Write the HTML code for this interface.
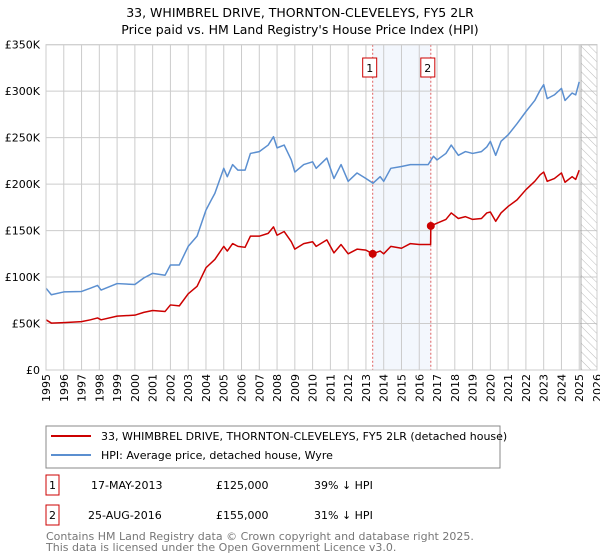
<!DOCTYPE html>
<html><head><meta charset="utf-8"><style>
body{margin:0;background:#fff;font-family:"DejaVu Sans","Liberation Sans",sans-serif;}
svg{display:block}
</style></head><body>
<svg width="600" height="560" font-family="DejaVu Sans, Liberation Sans, sans-serif">
<text x="300" y="17" text-anchor="middle" font-size="12.5">33, WHIMBREL DRIVE, THORNTON-CLEVELEYS, FY5 2LR</text>
<text x="300" y="34" text-anchor="middle" font-size="12.5">Price paid vs. HM Land Registry's House Price Index (HPI)</text>
<defs><pattern id="hatch" width="6" height="6" patternUnits="userSpaceOnUse" patternTransform="rotate(-45)"><line x1="0" y1="0" x2="0" y2="6" stroke="#bbb" stroke-width="1"/></pattern></defs>
<g id="plot"></g>
<g>
<rect x="46" y="426" width="454" height="42" fill="#fff" stroke="#888"/>
<line x1="51" y1="436" x2="91" y2="436" stroke="#cc0000" stroke-width="2"/>
<text x="101" y="440" font-size="11">33, WHIMBREL DRIVE, THORNTON-CLEVELEYS, FY5 2LR (detached house)</text>
<line x1="51" y1="455" x2="91" y2="455" stroke="#5b8fd0" stroke-width="2"/>
<text x="101" y="459" font-size="11">HPI: Average price, detached house, Wyre</text>
</g>
<g font-size="11">
<rect x="46" y="475" width="13" height="20" fill="#fff" stroke="#cc0000"/><text x="52.5" y="489" text-anchor="middle">1</text>
<text x="91" y="489">17-MAY-2013</text><text x="216" y="489">£125,000</text><text x="314" y="489">39% ↓ HPI</text>
<rect x="46" y="505" width="13" height="20" fill="#fff" stroke="#cc0000"/><text x="52.5" y="519" text-anchor="middle">2</text>
<text x="88" y="519">25-AUG-2016</text><text x="216" y="519">£155,000</text><text x="314" y="519">31% ↓ HPI</text>
</g>
<text x="46" y="540" font-size="11" fill="#777">Contains HM Land Registry data © Crown copyright and database right 2025.</text>
<text x="46" y="551" font-size="11" fill="#777">This data is licensed under the Open Government Licence v3.0.</text>
</svg>
<script>
const hpiYears=[1995,1995.3,1996,1997,1997.5,1997.9,1998.1,1999,2000,2000.5,2001,2001.7,2002,2002.5,2003,2003.5,2004,2004.3,2004.5,2005,2005.2,2005.5,2005.8,2006.2,2006.5,2007,2007.5,2007.8,2008,2008.4,2008.8,2009,2009.5,2010,2010.2,2010.8,2011.2,2011.6,2012,2012.5,2013,2013.4,2013.8,2014,2014.4,2015,2015.5,2016,2016.5,2016.8,2017,2017.5,2017.8,2018.2,2018.6,2019,2019.5,2019.8,2020,2020.3,2020.6,2021,2021.5,2022,2022.5,2022.8,2023,2023.2,2023.6,2024,2024.2,2024.6,2024.8,2025.0];
const hpiValues=[88,81,84,84.5,88,91,86,93,92,99,104,102,113,113,133,144,172,183,190,217,208,221,215,215,233,235,242,251,239,242,226,213,221,224,217,228,206,221,203,212,206,201,208,203,217,219,221,221,221,230,226,233,242,231,235,233,235,240,246,231,246,253,265,278,290,301,307,292,296,303,290,298,296,310];
const priceYears=[1995,1995.3,1996,1997,1997.5,1997.9,1998.1,1999,2000,2000.5,2001,2001.7,2002,2002.5,2003,2003.5,2004,2004.5,2005,2005.2,2005.5,2005.8,2006.2,2006.5,2007,2007.5,2007.8,2008,2008.4,2008.8,2009,2009.5,2010,2010.2,2010.8,2011.2,2011.6,2012,2012.5,2013,2013.38,2013.8,2014,2014.4,2015,2015.5,2016,2016.64,2016.65,2017,2017.5,2017.8,2018.2,2018.6,2019,2019.5,2019.8,2020,2020.3,2020.6,2021,2021.5,2022,2022.5,2022.8,2023,2023.2,2023.6,2024,2024.2,2024.6,2024.8,2025.0];
const priceValues=[54,50.5,51,52,54,56,54,58,59,62,64,63,70,69,82,90,110,119,133,128,136,133,132,144,144,147,154,145,149,138,130,136,138,133,140,126,135,125,130,129,125,128,125,133,131,136,135,135,155,158,162,169,163,165,162,163,169,170,160,169,176,183,194,203,210,213,203,206,212,202,208,205,215];
const saleYears=[2013.38,2016.65];
const saleValues=[125,155];
const saleLabels=["1","2"];
const yTicks=[0,50,100,150,200,250,300,350];
const yTickLabels=["£0","£50K","£100K","£150K","£200K","£250K","£300K","£350K"];
const xTicks=[1995,1996,1997,1998,1999,2000,2001,2002,2003,2004,2005,2006,2007,2008,2009,2010,2011,2012,2013,2014,2015,2016,2017,2018,2019,2020,2021,2022,2023,2024,2025,2026];

const L=46,R=597,T=44.7,B=370;
const xs=y=>L+(y-1995)/(2026-1995)*(R-L);
const ys=v=>B-v/350*(B-T);
const NS="http://www.w3.org/2000/svg";
const g=document.getElementById('plot');
function mk(tag,attrs){const e=document.createElementNS(NS,tag);for(const k in attrs)e.setAttribute(k,attrs[k]);g.appendChild(e);return e;}
let e=mk('rect',{x:xs(saleYears[0]),y:T,width:xs(saleYears[1])-xs(saleYears[0]),height:B-T,fill:'#eef3fc',opacity:0.7});


xTicks.forEach(t=>{const l=mk('line',{x1:xs(t),x2:xs(t),y1:T,y2:B,stroke:'#ccc'});


const tx=mk('text',{x:0,y:0,'font-size':11,'text-anchor':'end',transform:'translate('+(xs(t)+4)+','+(B+4)+') rotate(-90)'});tx.textContent=t;

});
yTicks.forEach((t,i)=>{const l=mk('line',{x1:L,x2:R,y1:ys(t),y2:ys(t),stroke:'#ccc'});


const tx=mk('text',{x:L-6,y:ys(t)+4,'font-size':11,'text-anchor':'end'});tx.textContent=yTickLabels[i];

});
const hx=xs(2025.1);
e=mk('rect',{x:hx,y:T,width:R-hx,height:B-T,fill:'url(#hatch)',stroke:'#999','stroke-width':0.8});


saleYears.forEach((y,i)=>{const l=mk('line',{x1:xs(y),x2:xs(y),y1:T,y2:B,stroke:'#e06060','stroke-dasharray':'2,2'});


const r=mk('rect',{x:xs(y)-10,y:58,width:14,height:19,fill:'#fff',stroke:'#cc0000'});


const t=mk('text',{x:xs(y)-3,y:72,'font-size':11,'text-anchor':'middle'});t.textContent=saleLabels[i];

});
function line(xa,va,col,name){const p=mk('polyline',{points:xa.map((x,i)=>xs(x)+','+ys(va[i])).join(' '),fill:'none',stroke:col,'stroke-width':1.5,'stroke-linejoin':'round'});

}
line(hpiYears,hpiValues,'#5b8fd0','hpi-line');
line(priceYears,priceValues,'#cc0000','price-line');
saleYears.forEach((y,i)=>{const c=mk('circle',{cx:xs(y),cy:ys(saleValues[i]),r:4,fill:'#cc0000'});

});
mk('rect',{x:L,y:T,width:R-L,height:B-T,fill:'none',stroke:'#ccc'});
</script>
</body></html>
